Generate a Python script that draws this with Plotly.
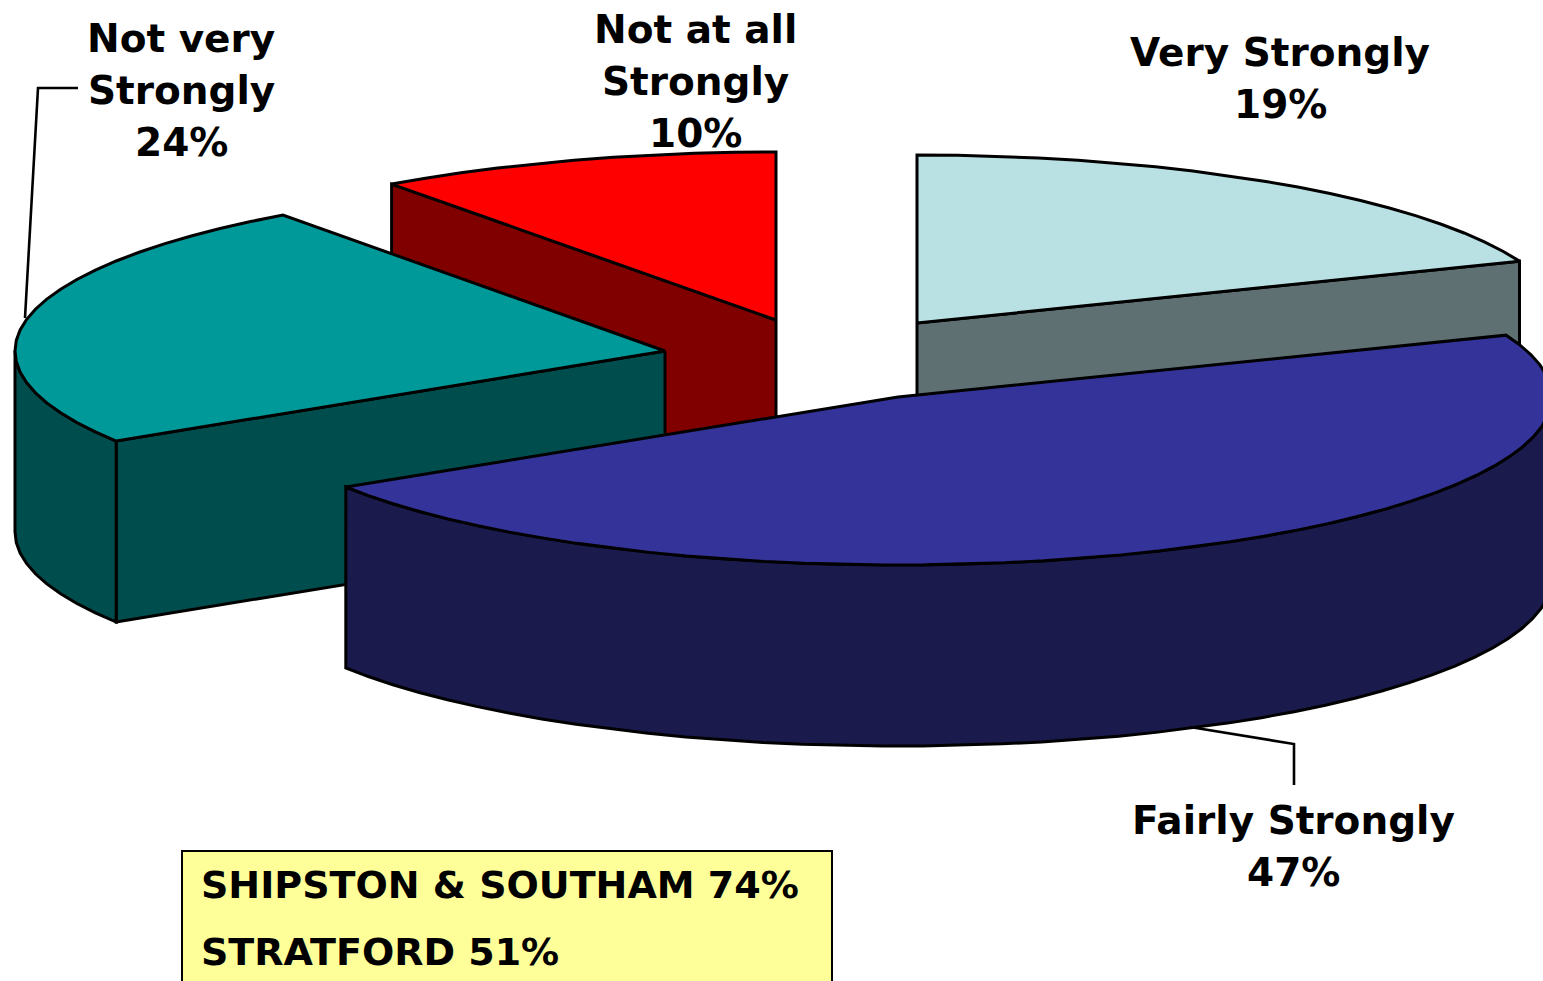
import math
import plotly.graph_objects as go

# ---- data ----
categories = ["Very Strongly", "Fairly Strongly", "Not very Strongly", "Not at all Strongly"]
shares = [19, 47, 24, 10]
box_names = ["SHIPSTON & SOUTHAM", "STRATFORD"]
box_values = [74, 51]

# ---- 3-D projection / styling ----
W, H = 1543, 981
RXS = [648, 654, 650, 654]
RY, DEPTH = 168, 181
apexes = [(917, 323), (898, 397), (665, 351), (776, 320)]
top_colors = ["#b9e0e3", "#333399", "#009999", "#ff0000"]
side_colors = ["#5f7073", "#1a1a4d", "#004d4d", "#800000"]
LINE = dict(color="black", width=3)
FONT = "DejaVu Sans"
FS = 39
FS_BOX = 38


def pt(i, deg, drop=0):
    a = math.radians(deg)
    ap = apexes[i]
    return ap[0] + RXS[i] * math.sin(a), ap[1] - RY * math.cos(a) + drop


def arc(i, a0, a1, drop=0):
    n = max(2, int(abs(a1 - a0) / 3.5))
    return [pt(i, a0 + (a1 - a0) * k / n, drop) for k in range(n + 1)]


def poly(fig, pts, color, name):
    fig.add_trace(go.Scatter(
        x=[p[0] for p in pts] + [pts[0][0]],
        y=[p[1] for p in pts] + [pts[0][1]],
        mode="lines", fill="toself", fillcolor=color, line=LINE,
        name=name, hoverinfo="name", showlegend=False))


fig = go.Figure()

# cumulative clockwise angles from 12 o'clock
starts, ends, c = [], [], 0
for s in shares:
    starts.append(c * 3.6)
    c += s
    ends.append(c * 3.6)

for i in [0, 3, 2, 1]:
    ap, a0, a1, name = apexes[i], starts[i], ends[i], categories[i]
    low = (ap[0], ap[1] + DEPTH)
    # flat cut face looking towards the viewer
    if i == 0:
        poly(fig, [ap, pt(i, a1), pt(i, a1, DEPTH), low], side_colors[i], name)
    if i in (2, 3):
        poly(fig, [ap, pt(i, a0), pt(i, a0, DEPTH), low], side_colors[i], name)
    # curved rim on the near half of the ellipse (90..270 degrees)
    r0, r1 = max(a0, 90), min(a1, 270)
    if r1 > r0:
        poly(fig, arc(i, r0, r1) + arc(i, r1, r0, DEPTH), side_colors[i], name)
    # top face
    poly(fig, [ap] + arc(i, a0, a1), top_colors[i], name)

# leader lines
leaders = ["M 78 88 L 38 88 L 25 318", "M 1190 727 L 1294 744 L 1294 785"]
shapes = [dict(type="path", path=p, line=dict(color="black", width=2.6), xref="x", yref="y")
          for p in leaders]
# yellow note box
shapes.append(dict(type="rect", x0=182, x1=832, y0=851, y1=1000, xref="x", yref="y",
                   fillcolor="#ffff99", line=dict(color="black", width=2)))

label_pos = [(1280, 52), (1293, 820), (181, 38), (695, 29)]
label_lines = [[categories[0]], [categories[1]], ["Not very", "Strongly"], ["Not at all", "Strongly"]]
ann = []
for i, (x, y) in enumerate(label_pos):
    lines = label_lines[i] + [f"{shares[i]}%"]
    for j, t in enumerate(lines):
        ann.append(dict(x=x, y=y + j * 52, text=f"<b>{t}</b>", showarrow=False,
                        xanchor="center", yanchor="middle", xref="x", yref="y",
                        font=dict(family=FONT, size=FS, color="black")))
for j, (n, v) in enumerate(zip(box_names, box_values)):
    ann.append(dict(x=199, y=885 + j * 67, text=f"<b>{n} {v}%</b>", showarrow=False,
                    xanchor="left", yanchor="middle", xref="x", yref="y",
                    font=dict(family=FONT, size=FS_BOX, color="black")))

fig.update_layout(
    width=W, height=H, margin=dict(l=0, r=0, t=0, b=0),
    paper_bgcolor="white", plot_bgcolor="white", showlegend=False,
    xaxis=dict(range=[0, W], visible=False, fixedrange=True),
    yaxis=dict(range=[H, 0], visible=False, fixedrange=True),
    shapes=shapes, annotations=ann)

fig.write_html("out.html", config=dict(displayModeBar=False),
               post_script="document.body.style.margin='0';document.body.style.overflow='hidden';")
